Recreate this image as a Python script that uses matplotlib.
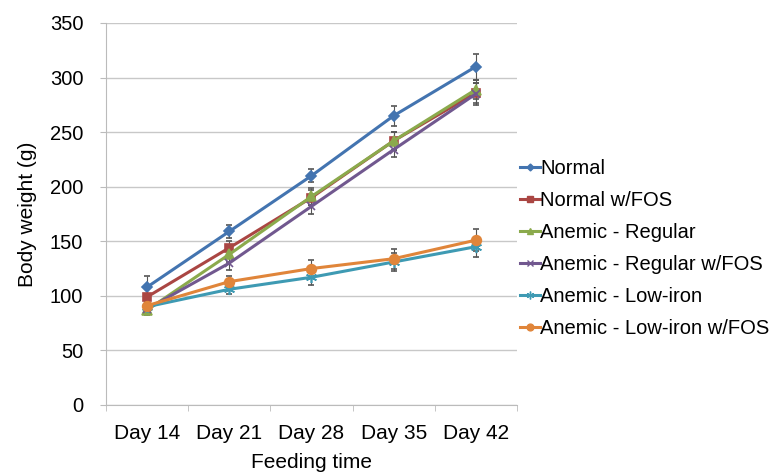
import matplotlib
matplotlib.use("Agg")
import matplotlib.pyplot as plt
from matplotlib.lines import Line2D
import numpy as np

plt.rcParams["font.family"] = ["Liberation Sans", "DejaVu Sans"]

days = ["Day 14", "Day 21", "Day 28", "Day 35", "Day 42"]

normal = [108, 159, 210, 265, 310]
normal_err = [10, 6, 6, 9, 12]
normal_fos = [99, 144, 190, 242, 286]
normal_fos_err = [8, 6, 7, 8, 9]
anemic_reg = [87, 138, 191, 242, 289]
anemic_reg_err = [5, 7, 8, 8, 9]
anemic_reg_fos = [88, 130, 182, 234, 285]
anemic_reg_fos_err = [4, 6, 7, 7, 10]
anemic_low = [90, 106, 117, 131, 145]
anemic_low_err = [4, 4, 7, 8, 9]
anemic_low_fos = [91, 113, 125, 134, 151]
anemic_low_fos_err = [4, 5, 8, 9, 10]

series = [
    ("Normal", normal, normal_err, "#4374B0", "D", 5),
    ("Normal w/FOS", normal_fos, normal_fos_err, "#AA4643", "s", 6),
    ("Anemic - Regular", anemic_reg, anemic_reg_err, "#8BAA4C", "^", 7),
    ("Anemic - Regular w/FOS", anemic_reg_fos, anemic_reg_fos_err, "#71588F", "x", 6),
    ("Anemic - Low-iron", anemic_low, anemic_low_err, "#3E9AB3", (6, 2, 0), 8),
    ("Anemic - Low-iron w/FOS", anemic_low_fos, anemic_low_fos_err, "#E0853A", "o", 7),
]

fs = 15

fig = plt.figure(figsize=(7.76, 4.74), dpi=100)
ax = fig.add_axes([0.1366, 0.1456, 0.5296, 0.806])

x = np.arange(len(days))
handles = []
for label, vals, err, color, marker, ms in series:
    ax.errorbar(x, vals, yerr=err, color=color, marker=marker, markersize=ms,
                linewidth=2.2, ecolor="#555555", elinewidth=0.8, capsize=2.5,
                capthick=0.8, markeredgewidth=1.2)
    handles.append(Line2D([], [], color=color, marker=marker, markersize=ms * 0.7,
                          linewidth=2.2, markeredgewidth=1.0, label=label))

ax.set_xlim(-0.5, len(days) - 0.5)
ax.set_ylim(0, 350)
ax.set_yticks(range(0, 351, 50))
ax.set_xticks(x)
ax.set_xticklabels(days)
ax.set_xticks(np.arange(-0.5, len(days)), minor=True)
ax.tick_params(axis="x", which="major", length=0, pad=14, labelsize=fs)
ax.tick_params(axis="x", which="minor", length=4.3, color="#BBBBBB")
ax.tick_params(axis="y", length=4.3, color="#BBBBBB", labelsize=14.5, pad=12)
ax.grid(axis="y", color="#C8C8C8", linewidth=1)
ax.set_axisbelow(True)
for side in ["top", "right"]:
    ax.spines[side].set_visible(False)
ax.spines["left"].set_color("#BBBBBB")
ax.spines["bottom"].set_color("#BBBBBB")

ax.set_xlabel("Feeding time", fontsize=fs, labelpad=7)
ax.set_ylabel("Body weight (g)", fontsize=fs, labelpad=9)

ax.legend(handles=handles, loc="center left", bbox_to_anchor=(1.007, 0.41),
          frameon=False, fontsize=14.5, handlelength=1.0, handletextpad=0.0,
          labelspacing=0.645, borderaxespad=0, borderpad=0)

fig.savefig("out.png", dpi=100)
